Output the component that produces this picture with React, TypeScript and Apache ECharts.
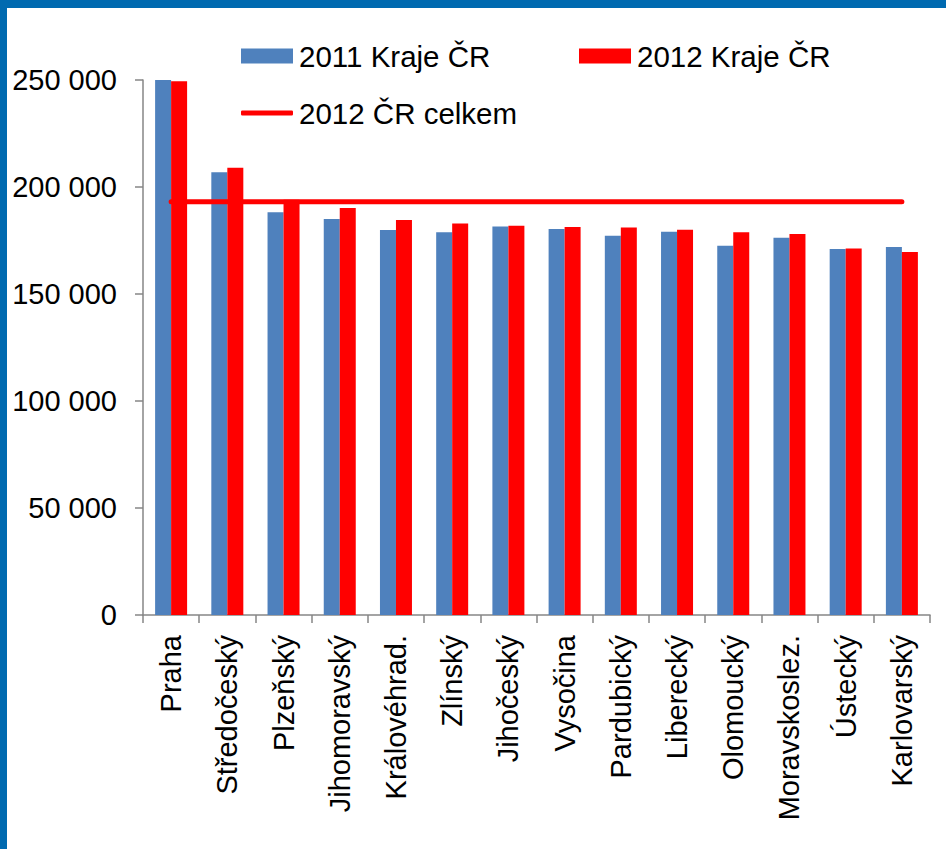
import React, { useEffect, useRef } from "react";
import * as echarts from "echarts";

const categories = [
  "Praha",
  "Středočeský",
  "Plzeňský",
  "Jihomoravský",
  "Královéhrad.",
  "Zlínský",
  "Jihočeský",
  "Vysočina",
  "Pardubický",
  "Liberecký",
  "Olomoucký",
  "Moravskoslez.",
  "Ústecký",
  "Karlovarský",
];

const kraje2011 = [250000, 206900, 188200, 185000, 179900, 178800, 181500, 180400, 177200, 179100, 172600, 176300, 171000, 172000];
const kraje2012 = [249400, 209000, 194000, 190200, 184600, 182900, 181900, 181300, 181100, 180000, 178800, 178000, 171300, 169600];
const crCelkem2012Value = 193100;
const crCelkem2012 = categories.map(() => crCelkem2012Value);

const yTicks = { min: 0, max: 250000, interval: 50000 };

const FONT = "'Liberation Sans', Arial, sans-serif";

export default function App() {
  const ref = useRef<HTMLDivElement>(null);

  useEffect(() => {
    if (!ref.current) return;
    const chart = echarts.init(ref.current, null, { renderer: "svg" });
    const legendText = { fontFamily: FONT, fontSize: 29.5, color: "#000", lineHeight: 30, padding: [0, 0, 0, 1] };
    chart.setOption({
      animation: false,
      backgroundColor: "#fff",
      graphic: [
        { type: "rect", left: 0, top: 0, shape: { width: 946, height: 8 }, style: { fill: "#006AB0" } },
        { type: "rect", left: 0, top: 0, shape: { width: 7, height: 849 }, style: { fill: "#006AB0" } },
      ],
      legend: [
        {
          data: ["2011 Kraje ČR"],
          left: 241,
          top: 41,
          padding: 0,
          itemWidth: 52,
          itemHeight: 15,
          icon: "rect",
          textStyle: legendText,
          selectedMode: false,
        },
        {
          data: ["2012 Kraje ČR"],
          left: 579,
          top: 41,
          padding: 0,
          itemWidth: 52,
          itemHeight: 15,
          icon: "rect",
          textStyle: legendText,
          selectedMode: false,
        },
        {
          data: ["2012 ČR celkem"],
          left: 241,
          top: 98,
          padding: 0,
          itemWidth: 52,
          itemHeight: 5,
          icon: "roundRect",
          itemStyle: { color: "#FF0000" },
          textStyle: legendText,
          selectedMode: false,
        },
      ],
      grid: { left: 143, right: 16, top: 80, bottom: 234, containLabel: false },
      xAxis: {
        type: "category",
        data: categories,
        boundaryGap: true,
        axisLine: { lineStyle: { color: "#868686", width: 1.5 } },
        axisTick: { show: true, interval: 0, length: 8, lineStyle: { color: "#868686", width: 1.5 } },
        axisLabel: {
          rotate: 90,
          interval: 0,
          margin: 20,
          fontFamily: FONT,
          fontSize: 29,
          color: "#000",
        },
      },
      yAxis: {
        type: "value",
        min: yTicks.min,
        max: yTicks.max,
        interval: yTicks.interval,
        splitLine: { show: false },
        axisLine: { show: true, lineStyle: { color: "#868686", width: 1.5 } },
        axisTick: { show: true, length: 8, lineStyle: { color: "#868686", width: 1.5 } },
        axisLabel: {
          margin: 26,
          fontFamily: FONT,
          fontSize: 29,
          color: "#000",
          formatter: (v: number) => String(v).replace(/\B(?=(\d{3})+(?!\d))/g, " "),
        },
      },
      series: [
        {
          name: "2011 Kraje ČR",
          type: "bar",
          data: kraje2011,
          barWidth: 16,
          barGap: "0%",
          itemStyle: { color: "#4F81BD" },
        },
        {
          name: "2012 Kraje ČR",
          type: "bar",
          data: kraje2012,
          barWidth: 16,
          barGap: "0%",
          itemStyle: { color: "#FF0000" },
        },
        {
          name: "2012 ČR celkem",
          type: "line",
          data: crCelkem2012,
          symbol: "none",
          z: 5,
          lineStyle: { color: "#FF0000", width: 5, cap: "round" },
          itemStyle: { color: "#FF0000" },
        },
      ],
    });
    return () => chart.dispose();
  }, []);

  return (
    <div
      ref={ref}
      style={{ position: "absolute", left: 0, top: 0, width: 946, height: 849 }}
    />
  );
}
